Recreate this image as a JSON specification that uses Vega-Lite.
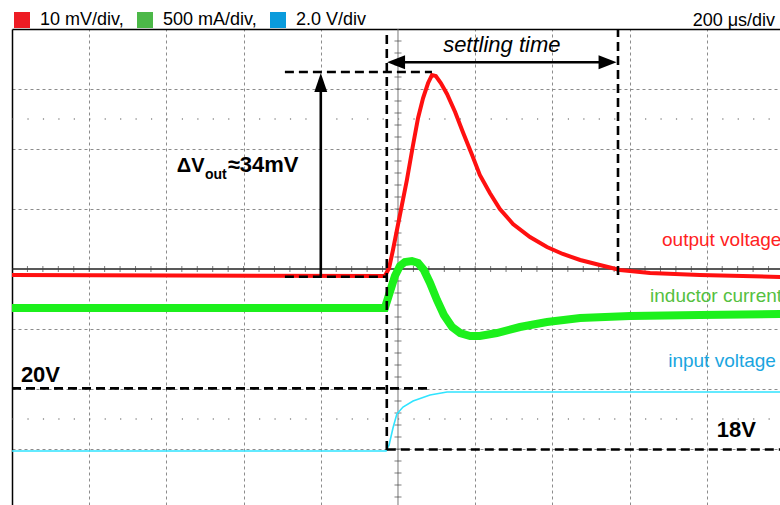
{
  "$schema": "https://vega.github.io/schema/vega-lite/v6.json",
  "width": 768,
  "height": 476,
  "autosize": {"type": "none"},
  "padding": {"left": 12, "top": 29, "right": 0, "bottom": 0},
  "background": "white",
  "config": {
    "font": "Liberation Sans",
    "view": {"stroke": null},
    "axis": {"labels": false, "ticks": false, "title": null, "domainColor": "#000", "domainWidth": 1.5, "gridColor": "#8c8c8c", "gridDash": [3, 3], "gridWidth": 1}
  },
  "datasets": {
    "traces": [
      {"channel": "10 mV/div,", "t": 0, "y": -0.1},
      {"channel": "10 mV/div,", "t": 966, "y": -0.117},
      {"channel": "10 mV/div,", "t": 977, "y": 0.017},
      {"channel": "10 mV/div,", "t": 987, "y": 0.317},
      {"channel": "10 mV/div,", "t": 1005, "y": 0.9},
      {"channel": "10 mV/div,", "t": 1023, "y": 1.483},
      {"channel": "10 mV/div,", "t": 1039, "y": 2.067},
      {"channel": "10 mV/div,", "t": 1052, "y": 2.517},
      {"channel": "10 mV/div,", "t": 1065, "y": 2.85},
      {"channel": "10 mV/div,", "t": 1078, "y": 3.1},
      {"channel": "10 mV/div,", "t": 1088, "y": 3.233},
      {"channel": "10 mV/div,", "t": 1098, "y": 3.217},
      {"channel": "10 mV/div,", "t": 1111, "y": 3.1},
      {"channel": "10 mV/div,", "t": 1127, "y": 2.917},
      {"channel": "10 mV/div,", "t": 1148, "y": 2.617},
      {"channel": "10 mV/div,", "t": 1168, "y": 2.283},
      {"channel": "10 mV/div,", "t": 1192, "y": 1.9},
      {"channel": "10 mV/div,", "t": 1212, "y": 1.567},
      {"channel": "10 mV/div,", "t": 1238, "y": 1.267},
      {"channel": "10 mV/div,", "t": 1264, "y": 1.0},
      {"channel": "10 mV/div,", "t": 1298, "y": 0.75},
      {"channel": "10 mV/div,", "t": 1342, "y": 0.533},
      {"channel": "10 mV/div,", "t": 1386, "y": 0.367},
      {"channel": "10 mV/div,", "t": 1427, "y": 0.25},
      {"channel": "10 mV/div,", "t": 1472, "y": 0.15},
      {"channel": "10 mV/div,", "t": 1523, "y": 0.067},
      {"channel": "10 mV/div,", "t": 1575, "y": -0.017},
      {"channel": "10 mV/div,", "t": 1653, "y": -0.067},
      {"channel": "10 mV/div,", "t": 1782, "y": -0.1},
      {"channel": "10 mV/div,", "t": 1990, "y": -0.133},
      {"channel": "500 mA/div,", "t": 0, "y": -0.65},
      {"channel": "500 mA/div,", "t": 966, "y": -0.65},
      {"channel": "500 mA/div,", "t": 979, "y": -0.383},
      {"channel": "500 mA/div,", "t": 992, "y": -0.117},
      {"channel": "500 mA/div,", "t": 1005, "y": 0.05},
      {"channel": "500 mA/div,", "t": 1018, "y": 0.117},
      {"channel": "500 mA/div,", "t": 1036, "y": 0.133},
      {"channel": "500 mA/div,", "t": 1052, "y": 0.1},
      {"channel": "500 mA/div,", "t": 1067, "y": -0.017},
      {"channel": "500 mA/div,", "t": 1083, "y": -0.233},
      {"channel": "500 mA/div,", "t": 1101, "y": -0.517},
      {"channel": "500 mA/div,", "t": 1119, "y": -0.767},
      {"channel": "500 mA/div,", "t": 1140, "y": -0.967},
      {"channel": "500 mA/div,", "t": 1161, "y": -1.067},
      {"channel": "500 mA/div,", "t": 1187, "y": -1.117},
      {"channel": "500 mA/div,", "t": 1212, "y": -1.117},
      {"channel": "500 mA/div,", "t": 1256, "y": -1.067},
      {"channel": "500 mA/div,", "t": 1316, "y": -0.967},
      {"channel": "500 mA/div,", "t": 1386, "y": -0.883},
      {"channel": "500 mA/div,", "t": 1472, "y": -0.817},
      {"channel": "500 mA/div,", "t": 1601, "y": -0.783},
      {"channel": "500 mA/div,", "t": 1782, "y": -0.767},
      {"channel": "500 mA/div,", "t": 1990, "y": -0.75},
      {"channel": "2.0 V/div", "t": 0, "y": -3.033},
      {"channel": "2.0 V/div", "t": 969, "y": -3.033},
      {"channel": "2.0 V/div", "t": 977, "y": -2.933},
      {"channel": "2.0 V/div", "t": 987, "y": -2.65},
      {"channel": "2.0 V/div", "t": 997, "y": -2.417},
      {"channel": "2.0 V/div", "t": 1013, "y": -2.3},
      {"channel": "2.0 V/div", "t": 1039, "y": -2.2},
      {"channel": "2.0 V/div", "t": 1083, "y": -2.1},
      {"channel": "2.0 V/div", "t": 1127, "y": -2.05},
      {"channel": "2.0 V/div", "t": 1990, "y": -2.05}
    ],
    "ticksH": [
      {"t": 40, "y": 0}, {"t": 80, "y": 0}, {"t": 120, "y": 0}, {"t": 160, "y": 0}, {"t": 200, "y": 0}, {"t": 240, "y": 0}, {"t": 280, "y": 0}, {"t": 320, "y": 0}, {"t": 360, "y": 0}, {"t": 400, "y": 0},
      {"t": 440, "y": 0}, {"t": 480, "y": 0}, {"t": 520, "y": 0}, {"t": 560, "y": 0}, {"t": 600, "y": 0}, {"t": 640, "y": 0}, {"t": 680, "y": 0}, {"t": 720, "y": 0}, {"t": 760, "y": 0}, {"t": 800, "y": 0},
      {"t": 840, "y": 0}, {"t": 880, "y": 0}, {"t": 920, "y": 0}, {"t": 960, "y": 0}, {"t": 1000, "y": 0}, {"t": 1040, "y": 0}, {"t": 1080, "y": 0}, {"t": 1120, "y": 0}, {"t": 1160, "y": 0}, {"t": 1200, "y": 0},
      {"t": 1240, "y": 0}, {"t": 1280, "y": 0}, {"t": 1320, "y": 0}, {"t": 1360, "y": 0}, {"t": 1400, "y": 0}, {"t": 1440, "y": 0}, {"t": 1480, "y": 0}, {"t": 1520, "y": 0}, {"t": 1560, "y": 0}, {"t": 1600, "y": 0},
      {"t": 1640, "y": 0}, {"t": 1680, "y": 0}, {"t": 1720, "y": 0}, {"t": 1760, "y": 0}, {"t": 1800, "y": 0}, {"t": 1840, "y": 0}, {"t": 1880, "y": 0}, {"t": 1920, "y": 0}, {"t": 1960, "y": 0}
    ],
    "ticksV": [
      {"t": 1000, "y": -3.8}, {"t": 1000, "y": -3.6}, {"t": 1000, "y": -3.4}, {"t": 1000, "y": -3.2}, {"t": 1000, "y": -3.0}, {"t": 1000, "y": -2.8}, {"t": 1000, "y": -2.6}, {"t": 1000, "y": -2.4}, {"t": 1000, "y": -2.2}, {"t": 1000, "y": -2.0},
      {"t": 1000, "y": -1.8}, {"t": 1000, "y": -1.6}, {"t": 1000, "y": -1.4}, {"t": 1000, "y": -1.2}, {"t": 1000, "y": -1.0}, {"t": 1000, "y": -0.8}, {"t": 1000, "y": -0.6}, {"t": 1000, "y": -0.4}, {"t": 1000, "y": -0.2},
      {"t": 1000, "y": 0.2}, {"t": 1000, "y": 0.4}, {"t": 1000, "y": 0.6}, {"t": 1000, "y": 0.8}, {"t": 1000, "y": 1.0}, {"t": 1000, "y": 1.2}, {"t": 1000, "y": 1.4}, {"t": 1000, "y": 1.6}, {"t": 1000, "y": 1.8}, {"t": 1000, "y": 2.0},
      {"t": 1000, "y": 2.2}, {"t": 1000, "y": 2.4}, {"t": 1000, "y": 2.6}, {"t": 1000, "y": 2.8}, {"t": 1000, "y": 3.0}, {"t": 1000, "y": 3.2}, {"t": 1000, "y": 3.4}, {"t": 1000, "y": 3.6}, {"t": 1000, "y": 3.8}
    ],
    "dotted": [
      {"t": 0, "t2": 1990, "y": 2.5, "y2": 2.5},
      {"t": 0, "t2": 1990, "y": -2.5, "y2": -2.5}
    ],
    "dashed": [
      {"t": 971, "t2": 971, "y": -3.017, "y2": 4},
      {"t": 1570, "t2": 1570, "y": -0.1, "y2": 4},
      {"t": 707, "t2": 1088, "y": 3.283, "y2": 3.283},
      {"t": 707, "t2": 971, "y": -0.128, "y2": -0.128},
      {"t": 0, "t2": 1088, "y": -1.99, "y2": -1.99},
      {"t": 971, "t2": 1990, "y": -3.008, "y2": -3.008}
    ],
    "solid": [
      {"t": 990, "t2": 1548, "y": 3.445, "y2": 3.445},
      {"t": 800, "t2": 800, "y": -0.117, "y2": 3.0}
    ]
  },
  "encoding": {
    "x": {"field": "t", "type": "quantitative", "scale": {"domain": [0, 1989.7], "nice": false, "zero": false}, "axis": {"orient": "top", "values": [200, 400, 600, 800, 1200, 1400, 1600, 1800]}},
    "y": {"field": "y", "type": "quantitative", "scale": {"domain": [-3.9333, 4], "nice": false, "zero": false}, "axis": {"orient": "left", "values": [-3, -2, -1, 1, 2, 3]}}
  },
  "layer": [
    {
      "data": {"name": "dotted"},
      "mark": {"type": "rule", "color": "#555", "strokeWidth": 1.2, "strokeDash": [1.2, 14.24]},
      "encoding": {"x2": {"field": "t2"}, "y2": {"field": "y2"}}
    },
    {
      "data": {"values": [{"t": 0, "t2": 1990, "y": 0, "y2": 0}]},
      "mark": {"type": "rule", "color": "#222", "strokeWidth": 1.3},
      "encoding": {"x2": {"field": "t2"}, "y2": {"field": "y2"}}
    },
    {
      "data": {"values": [{"t": 1000, "t2": 1000, "y": -3.9333, "y2": 4}]},
      "mark": {"type": "rule", "color": "#777", "strokeWidth": 1},
      "encoding": {"x2": {"field": "t2"}, "y2": {"field": "y2"}}
    },
    {
      "data": {"name": "ticksH"},
      "mark": {"type": "tick", "orient": "vertical", "size": 6, "thickness": 1, "color": "#444"}
    },
    {
      "data": {"name": "ticksV"},
      "mark": {"type": "tick", "orient": "horizontal", "size": 7, "thickness": 1, "color": "#444"}
    },
    {
      "data": {"name": "traces"},
      "encoding": {
        "color": {
          "field": "channel", "type": "nominal",
          "scale": {"domain": ["10 mV/div,", "500 mA/div,", "2.0 V/div"], "range": ["#ff1010", "#1cf01c", "#30e4ff"]},
          "legend": {
            "orient": "none", "legendX": 1, "legendY": -18, "direction": "horizontal", "title": null,
            "symbolType": "square", "symbolSize": 256, "labelFontSize": 18, "labelFont": "Liberation Sans", "labelColor": "#000",
            "labelOffset": 9, "columnPadding": 12, "padding": 0, "labelLimit": 300,
            "encode": {"symbols": {"update": {"fill": {"signal": "datum.value === '10 mV/div,' ? '#ed1c24' : datum.value === '500 mA/div,' ? '#4cb848' : '#0a9bdc'"}, "stroke": {"value": "transparent"}, "strokeWidth": {"value": 0}, "opacity": {"value": 1}}}}
          }
        }
      },
      "layer": [
        {"transform": [{"filter": "datum.channel === '2.0 V/div'"}], "mark": {"type": "line", "strokeWidth": 1.6}},
        {"transform": [{"filter": "datum.channel === '500 mA/div,'"}], "mark": {"type": "line", "strokeWidth": 8}},
        {"transform": [{"filter": "datum.channel === '10 mV/div,'"}], "mark": {"type": "line", "strokeWidth": 4}}
      ]
    },
    {
      "data": {"name": "dashed"},
      "mark": {"type": "rule", "color": "#000", "strokeWidth": 2.6, "strokeDash": [9, 5]},
      "encoding": {"x2": {"field": "t2"}, "y2": {"field": "y2"}}
    },
    {
      "data": {"name": "solid"},
      "mark": {"type": "rule", "color": "#000", "strokeWidth": 2.6},
      "encoding": {"x2": {"field": "t2"}, "y2": {"field": "y2"}}
    },
    {
      "data": {"values": [{"t": 800, "y": 3.108}]},
      "mark": {"type": "point", "shape": "M0,-1L-0.68,1L0.68,1Z", "size": 361, "filled": true, "color": "#000", "opacity": 1}
    },
    {
      "data": {"values": [{"t": 995, "y": 3.445}]},
      "mark": {"type": "point", "shape": "M-1,0L1,-0.78L1,0.78Z", "size": 324, "filled": true, "color": "#000", "opacity": 1}
    },
    {
      "data": {"values": [{"t": 1543, "y": 3.445}]},
      "mark": {"type": "point", "shape": "M1,0L-1,-0.78L-1,0.78Z", "size": 324, "filled": true, "color": "#000", "opacity": 1}
    },
    {
      "data": {"values": [{"t": 1977, "y": 4.05, "label": "200 μs/div"}]},
      "mark": {"type": "text", "align": "right", "baseline": "alphabetic", "fontSize": 18, "color": "#000"},
      "encoding": {"text": {"field": "label"}}
    },
    {
      "data": {"values": [{"t": 1269, "y": 3.61, "label": "settling time"}]},
      "mark": {"type": "text", "align": "center", "baseline": "alphabetic", "fontSize": 22, "fontStyle": "italic", "color": "#000"},
      "encoding": {"text": {"field": "label"}}
    },
    {
      "data": {"values": [{"t": 427, "y": 1.617, "label": "ΔV"}]},
      "mark": {"type": "text", "align": "left", "baseline": "alphabetic", "fontSize": 20, "fontWeight": "bold", "color": "#000"},
      "encoding": {"text": {"field": "label"}}
    },
    {
      "data": {"values": [{"t": 500, "y": 1.5, "label": "out"}]},
      "mark": {"type": "text", "align": "left", "baseline": "alphabetic", "fontSize": 14, "fontWeight": "bold", "color": "#000"},
      "encoding": {"text": {"field": "label"}}
    },
    {
      "data": {"values": [{"t": 559, "y": 1.617, "label": "≈34mV"}]},
      "mark": {"type": "text", "align": "left", "baseline": "alphabetic", "fontSize": 22, "fontWeight": "bold", "color": "#000"},
      "encoding": {"text": {"field": "label"}}
    },
    {
      "data": {"values": [{"t": 23, "y": -1.883, "label": "20V"}, {"t": 1826, "y": -2.8, "label": "18V"}]},
      "mark": {"type": "text", "align": "left", "baseline": "alphabetic", "fontSize": 22, "fontWeight": "bold", "color": "#000"},
      "encoding": {"text": {"field": "label"}}
    },
    {
      "data": {"values": [{"t": 1684, "y": 0.383, "label": "output voltage"}]},
      "mark": {"type": "text", "align": "left", "baseline": "alphabetic", "fontSize": 19, "color": "#ff2222"},
      "encoding": {"text": {"field": "label"}}
    },
    {
      "data": {"values": [{"t": 1653, "y": -0.545, "label": "inductor current"}]},
      "mark": {"type": "text", "align": "left", "baseline": "alphabetic", "fontSize": 19, "color": "#55c040"},
      "encoding": {"text": {"field": "label"}}
    },
    {
      "data": {"values": [{"t": 1700, "y": -1.628, "label": "input voltage"}]},
      "mark": {"type": "text", "align": "left", "baseline": "alphabetic", "fontSize": 19, "color": "#1aa5e0"},
      "encoding": {"text": {"field": "label"}}
    }
  ]
}
